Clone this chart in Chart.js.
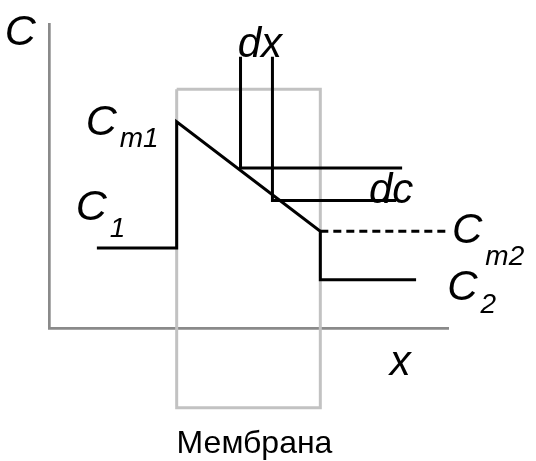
<!DOCTYPE html>
<html>
<head>
<meta charset="utf-8">
<script src="https://cdn.jsdelivr.net/npm/chart.js@4/dist/chart.umd.min.js"></script>
<style>
    html, body { margin: 0; padding: 0; background: #fff; }
    #wrap { width: 536px; height: 461px; position: relative; }
</style>
</head>
<body>
<div id="wrap"><canvas id="chart"></canvas></div>
<script>
(function () {
    "use strict";

    // concentration profile across the membrane
    const profileX = [1.2, 3.2, 3.2, 6.8, 6.8, 9.2];
    const profileC = [2.63, 2.63, 6.78, 3.18, 1.59, 1.59];

    // membrane walls
    const membraneX = [3.2, 6.8];
    const membraneC = [-2.62, 7.85];

    // dx / dc construction lines
    const dxX = [4.8, 5.6];
    const dxTopC = 8.92;
    const dcC = [5.26, 4.19];
    const dcEndX = [8.85, 8.7];
    const cm2EndX = 10;

    const ink = "#000";
    const font = "'Liberation Sans', Arial, sans-serif";

    function pts(xs, ys) {
        return xs.map((x, i) => ({ x: x, y: ys[i] }));
    }

    function line(data, color, extra) {
        return Object.assign({
            data: data,
            showLine: true,
            borderColor: color,
            borderWidth: 3,
            pointRadius: 0,
            fill: false,
            tension: 0,
            clip: false,
        }, extra || {});
    }

    const membrane = [
        { x: membraneX[0], y: membraneC[1] },
        { x: membraneX[1], y: membraneC[1] },
        { x: membraneX[1], y: membraneC[0] },
        { x: membraneX[0], y: membraneC[0] },
        { x: membraneX[0], y: membraneC[1] },
    ];

    // text labels: [main, subscript, x, y, subscript drop, italic, size]
    const labels = [
        ["C", "", -1.11, 9.31, 0, true, 43],
        ["dx", "", 4.73, 8.91, 0, true, 42],
        ["C", "m1", 0.92, 6.35, 12, true, 43],
        ["C", "1", 0.67, 3.55, 17, true, 43],
        ["dc", "", 8.02, 4.11, 0, true, 42],
        ["C", "m2", 10.1, 2.79, 22, true, 42],
        ["C", "2", 9.98, 0.91, 13, true, 42],
        ["x", "", 8.54, -1.56, 0, true, 42],
        ["Мембрана", "", 5.15, -4.12, 0, false, 32],
    ];

    const labelPlugin = {
        id: "labels",
        afterDraw(chart) {
            const ctx = chart.ctx;
            const sx = chart.scales.x;
            const sy = chart.scales.y;
            ctx.save();
            ctx.fillStyle = ink;
            ctx.textBaseline = "alphabetic";
            labels.forEach(([main, sub, xv, yv, drop, italic, size]) => {
                const px = sx.getPixelForValue(xv);
                const py = sy.getPixelForValue(yv);
                ctx.font = (italic ? "italic " : "") + size + "px " + font;
                if (!italic) {
                    ctx.textAlign = "center";
                    ctx.fillText(main, px, py);
                    return;
                }
                ctx.textAlign = "left";
                ctx.fillText(main, px, py);
                if (sub) {
                    const w = ctx.measureText(main).width;
                    ctx.font = "italic 28px " + font;
                    ctx.fillText(sub, px + w + 3, py + drop);
                }
            });
            ctx.restore();
        },
    };

    // first dataset is painted on top, so the membrane goes last
    const chart = new Chart(document.getElementById("chart"), {
        type: "scatter",
        data: {
            datasets: [
                line(pts(profileX, profileC), ink),
                line([{ x: dxX[0], y: dxTopC }, { x: dxX[0], y: dcC[0] }, { x: dcEndX[0], y: dcC[0] }], ink),
                line([{ x: dxX[1], y: dxTopC }, { x: dxX[1], y: dcC[1] }, { x: dcEndX[1], y: dcC[1] }], ink),
                line([{ x: profileX[3], y: profileC[3] }, { x: cm2EndX, y: profileC[3] }], ink, { borderDash: [8, 5] }),
                line(membrane, "#c2c2c2"),
            ],
        },
        options: {
            responsive: true,
            maintainAspectRatio: false,
            animation: false,
            events: [],
            layout: {
                padding: { left: 49, top: 24, right: 88, bottom: 133 },
            },
            plugins: {
                legend: { display: false },
                tooltip: { enabled: false },
            },
            scales: {
                x: {
                    type: "linear",
                    min: 0,
                    max: 10,
                    z: 1,
                    grid: { display: false, drawTicks: false },
                    ticks: { display: false },
                    border: { display: true, color: "#8a8a8a", width: 2.7 },
                },
                y: {
                    type: "linear",
                    min: 0,
                    max: 10,
                    z: 1,
                    grid: { display: false, drawTicks: false },
                    ticks: { display: false },
                    border: { display: true, color: "#8a8a8a", width: 2.7 },
                },
            },
        },
        plugins: [labelPlugin],
    });
})();
</script>
</body>
</html>
